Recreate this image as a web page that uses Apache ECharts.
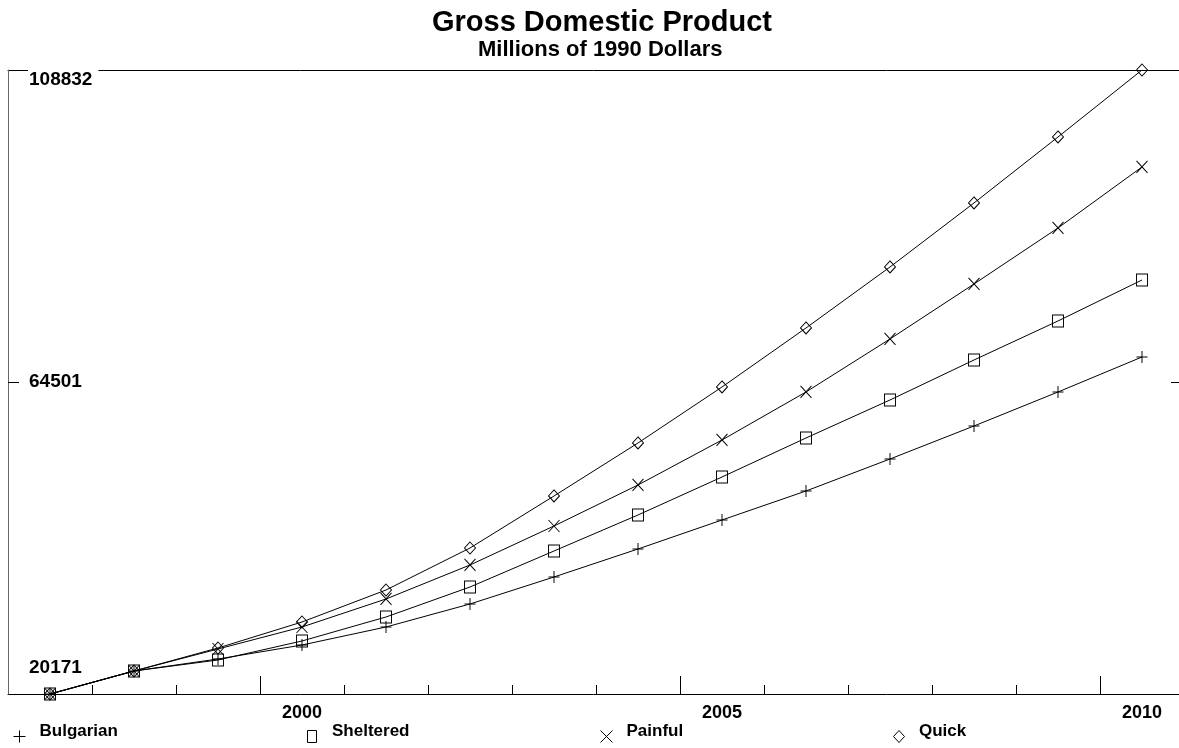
<!DOCTYPE html>
<html>
<head>
<meta charset="utf-8">
<script src="https://cdn.jsdelivr.net/npm/echarts@6/dist/echarts.min.js"></script>
<style>
html,body{margin:0;padding:0;background:#fff;}
#chart{width:1179px;height:748px;}
</style>
</head>
<body>
<div id="chart"></div>
<script>
const years = [1997,1998,1999,2000,2001,2002,2003,2004,2005,2006,2007,2008,2009,2010];
const bulgarian = [20171,23439,25144,27133,29691,32959,36796,40774,44895,49015,53562,58251,63082,68055];
const sheltered = [20171,23439,25002,27702,31112,35375,40490,45605,51005,56546,61945,67629,73171,78996];
const painful   = [20171,23439,26565,29691,33670,38501,44042,49868,56262,63082,70613,78428,86385,95052];
const quick     = [20171,23439,26707,30401,34948,40916,48305,55836,63793,72176,80843,89937,99315,108832];
const seriesNames = ['Bulgarian','Sheltered','Painful','Quick'];
const xTickLabels = ['2000','2005','2010'];
const yTickLabels = [20171,64501,108832];

const FONT = "'Liberation Sans', Arial, sans-serif";
const symPlus = 'path://M0,6L12,6M6,0L6,12';
const symX = 'path://M0,0L12,13M12,0L0,13';
const symRect = 'path://M0,0L10,0L10,12L0,12Z';
const symDiamond = 'path://M5.5,0L11,6L5.5,12L0,6Z';
const symbols = [symPlus, symRect, symX, symDiamond];
// legend icons: same shapes, with an invisible move-to above so the visible mark sits lower than the text
const legendIcons = [
  'path://M6,-10M0,6L12,6M6,0L6,12',
  'path://M5,-10M1,0L10,0L10,12L1,12Z',
  'path://M6,-10M0,0L12,12M12,0L0,12',
  'path://M6,-10M0.5,6L6,0L11.5,6L6,12Z'
];
const values = [bulgarian, sheltered, painful, quick];

const chart = echarts.init(document.getElementById('chart'), null, {renderer:'canvas'});

const xMin = years[0] - 0.5;
const xMax = xMin + 1171/84;
const minorTicks = years.slice(1).map(y => y - 0.5);
const majorTicks = xTickLabels.map(l => Number(l) - 0.5);
const labelVals = xTickLabels.map(Number);

const series = seriesNames.map((name, i) => ({
  name: name,
  type: 'line',
  xAxisIndex: 0,
  yAxisIndex: 0,
  data: years.map((y, j) => [y, values[i][j]]),
  symbol: symbols[i],
  symbolSize: [11, 12],
  showAllSymbol: true,
  lineStyle: {color: '#000', width: 1},
  itemStyle: {color: 'rgba(0,0,0,0)', borderColor: '#000', borderWidth: 1},
  emphasis: {disabled: true},
  animation: false
}));

const legendLefts = [8, 302, 595, 888];
const legends = seriesNames.map((name, i) => ({
  data: [{name: name, icon: legendIcons[i]}],
  left: legendLefts[i],
  top: 715,
  itemWidth: 12,
  itemHeight: 22,
  selectedMode: false,
  lineStyle: {width: 0, opacity: 0},
  itemStyle: {color: 'rgba(0,0,0,0)', borderColor: '#000', borderWidth: 1},
  textStyle: {fontFamily: FONT, fontWeight: 'bold', fontSize: 17, color: '#000', padding: [0, 0, 0, 9]}
}));

const option = {
  backgroundColor: '#fff',
  animation: false,
  title: [
    {text: 'Gross Domestic Product', left: 427, top: 3,
     textStyle: {fontFamily: FONT, fontWeight: 'bold', fontSize: 29, color: '#000'}},
    {text: 'Millions of 1990 Dollars', left: 473, top: 34,
     textStyle: {fontFamily: FONT, fontWeight: 'bold', fontSize: 22, color: '#000'}}
  ],
  legend: legends,
  grid: {left: 8, right: 0, top: 70, bottom: 54, containLabel: false},
  xAxis: [
    {type: 'value', min: xMin, max: xMax, position: 'bottom',
     axisLine: {show: true, lineStyle: {color: '#000', width: 1}},
     axisTick: {show: true, inside: true, length: 9, customValues: minorTicks, lineStyle: {color: '#000'}},
     axisLabel: {show: false},
     splitLine: {show: false}},
    {type: 'value', min: xMin, max: xMax, position: 'bottom',
     axisLine: {show: false},
     axisTick: {show: true, inside: true, length: 18, customValues: majorTicks, lineStyle: {color: '#000'}},
     axisLabel: {show: true, customValues: labelVals, margin: 10,
       formatter: v => xTickLabels[labelVals.indexOf(Math.round(v))] || '',
       fontFamily: FONT, fontWeight: 'bold', fontSize: 18, color: '#000'},
     splitLine: {show: false}},
    {type: 'value', min: xMin, max: xMax, position: 'top',
     axisLine: {show: true, lineStyle: {color: '#000', width: 1}},
     axisTick: {show: false}, axisLabel: {show: false}, splitLine: {show: false}}
  ],
  yAxis: [
    {type: 'value', min: yTickLabels[0], max: yTickLabels[2], position: 'left', z: 5,
     axisLine: {show: true, lineStyle: {color: '#666', width: 1}},
     axisTick: {show: true, inside: true, length: 11, customValues: [yTickLabels[1]], lineStyle: {color: '#000'}},
     axisLabel: {show: true, inside: true, margin: 20, customValues: yTickLabels,
       formatter: v => {
         if (v === yTickLabels[2]) return '{t|' + v + '}';
         if (v === yTickLabels[0]) return '{b|' + v + '}';
         return '{m|' + v + '}';
       },
       rich: {
         t: {fontFamily: FONT, fontWeight: 'bold', fontSize: 19, color: '#000', padding: [20, 6, 0, 1], backgroundColor: '#fff'},
         b: {fontFamily: FONT, fontWeight: 'bold', fontSize: 19, color: '#000', padding: [0, 0, 52, 1]},
         m: {fontFamily: FONT, fontWeight: 'bold', fontSize: 19, color: '#000', padding: [0, 0, 0, 1]}
       }},
     splitLine: {show: false}},
    {type: 'value', min: yTickLabels[0], max: yTickLabels[2], position: 'right',
     axisLine: {show: false},
     axisTick: {show: true, inside: true, length: 8, customValues: [yTickLabels[1]], lineStyle: {color: '#000'}},
     axisLabel: {show: false}, splitLine: {show: false}}
  ],
  series: series
};
chart.setOption(option);
</script>
</body>
</html>
